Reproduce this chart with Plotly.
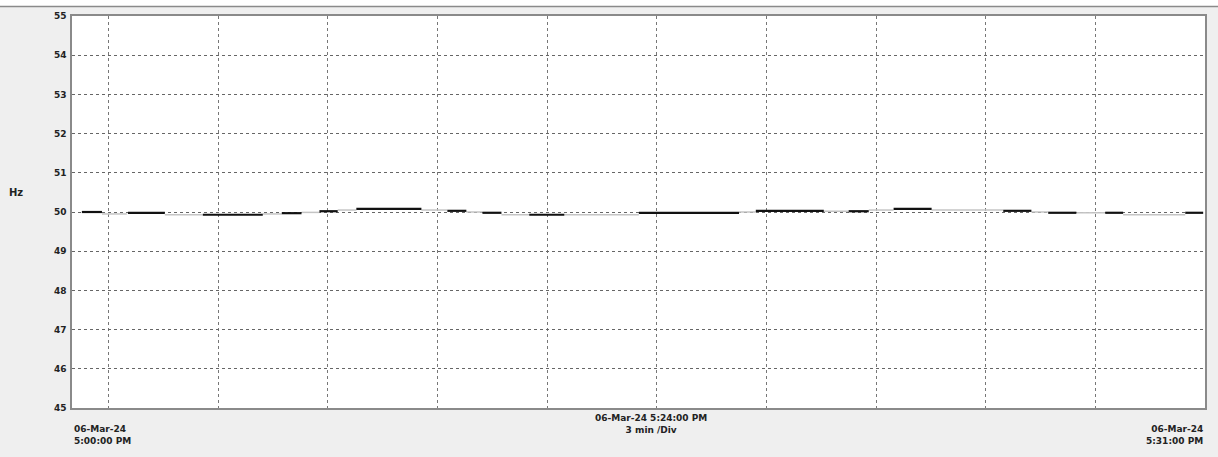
import pandas as pd
import plotly.graph_objects as go

# ---- data (minutes after 06-Mar-24 5:00:00 PM) ----
seg_start = [0.27, 0.82, 1.53, 2.54, 3.58, 5.22, 5.74, 6.28, 6.77, 7.27, 7.78, 9.56,
             10.27, 10.79, 11.23, 11.75, 12.51, 13.47, 15.51, 18.25, 18.71, 20.57,
             21.25, 21.80, 22.48, 23.52, 25.48, 26.25, 26.71, 27.48, 28.27, 28.76, 30.46]
seg_end = [0.82, 1.50, 2.54, 3.58, 5.22, 5.74, 6.28, 6.77, 7.27, 7.78, 9.56, 10.27,
           10.79, 11.23, 11.75, 12.51, 13.47, 15.51, 18.25, 18.71, 20.57, 21.25,
           21.80, 22.48, 23.52, 25.48, 26.25, 26.71, 27.48, 28.27, 28.76, 30.46, 30.95]
seg_value = [50.00, 49.95, 49.98, 49.93, 49.93, 49.95, 49.97, 49.99, 50.02, 50.05, 50.08, 50.05,
             50.03, 50.00, 49.98, 49.93, 49.93, 49.93, 49.98, 50.00, 50.03, 50.02,
             50.02, 50.05, 50.08, 50.05, 50.03, 50.00, 49.98, 49.98, 49.98, 49.93, 49.98]
seg_dark = [1, 0, 1, 0, 1, 0, 1, 0, 1, 0, 1, 0,
            1, 0, 1, 0, 1, 0, 1, 0, 1, 0,
            1, 0, 1, 0, 1, 0, 1, 0, 1, 0, 1]

y_ticks = [45, 46, 47, 48, 49, 50, 51, 52, 53, 54, 55]
start_label = "06-Mar-24<br>5:00:00 PM"
end_label = "06-Mar-24<br>5:31:00 PM"
mid_label = "06-Mar-24 5:24:00 PM<br>3 min /Div"
y_unit = "Hz"

base = pd.Timestamp("2024-03-06 17:00:00")
t_start = base
t_end = base + pd.Timedelta(minutes=31)
grid0 = base + pd.Timedelta(minutes=1)


def to_t(m):
    return base + pd.Timedelta(seconds=m * 60)


def build(flag):
    xs, ys = [], []
    for s, e, v, d in zip(seg_start, seg_end, seg_value, seg_dark):
        if d == flag:
            xs += [to_t(s), to_t(e), None]
            ys += [v, v, None]
    return xs, ys


fig = go.Figure()
gx, gy = build(0)
fig.add_trace(go.Scatter(x=gx, y=gy, mode="lines", line=dict(color="#c4c4c4", width=1.5),
                         hoverinfo="skip", showlegend=False))
dx, dy = build(1)
fig.add_trace(go.Scatter(x=dx, y=dy, mode="lines", line=dict(color="#111111", width=2.2),
                         hoverinfo="skip", showlegend=False))

fig.update_layout(
    width=1218, height=457,
    margin=dict(l=72, r=11, t=14, b=49),
    paper_bgcolor="#efefef",
    plot_bgcolor="white",
    showlegend=False,
)
fig.update_xaxes(
    type="date", range=[t_start, t_end],
    tick0=grid0, dtick=3 * 60 * 1000,
    showticklabels=False, ticks="",
    showgrid=True, gridcolor="#777777", griddash="dot", gridwidth=1,
    showline=True, linecolor="#8a8a8a", linewidth=1.5, mirror=True,
    zeroline=False,
)
fig.update_yaxes(
    range=[45, 55], tickvals=y_ticks, ticktext=[str(v) for v in y_ticks],
    tickfont=dict(family="DejaVu Sans", size=9, color="#222222", weight="bold"),
    ticks="", ticklabelstandoff=2,
    showgrid=True, gridcolor="#666666", griddash="dot", gridwidth=1,
    showline=True, linecolor="#8a8a8a", linewidth=1.5, mirror=True,
    zeroline=False,
)

fnt = dict(family="DejaVu Sans", size=9, color="#222222", weight="bold")
fig.add_annotation(text=start_label, xref="paper", yref="paper", x=0, y=-0.035,
                   xanchor="left", yanchor="top", showarrow=False, align="left", font=fnt)
fig.add_annotation(text=end_label, xref="paper", yref="paper", x=1, y=-0.035,
                   xanchor="right", yanchor="top", showarrow=False, align="right", font=fnt)
fig.add_annotation(text=mid_label, xref="paper", yref="paper", x=0.511, y=-0.008,
                   xanchor="center", yanchor="top", showarrow=False, align="center", font=fnt)
fig.add_annotation(text=y_unit, xref="paper", yref="paper", x=-0.049, y=0.55,
                   xanchor="center", yanchor="middle", showarrow=False,
                   font=dict(family="DejaVu Sans", size=10, color="#222222", weight="bold"))

# top white strip and separator line
fig.add_shape(type="rect", xref="paper", yref="paper", x0=-0.1, x1=1.1, y0=1.024, y1=1.1,
              fillcolor="white", line=dict(width=0), layer="below")
fig.add_shape(type="line", xref="paper", yref="paper", x0=-0.1, x1=1.1, y0=1.024, y1=1.024,
              line=dict(color="#8a8a8a", width=1.5))

fig.write_html("out.html", config={"displayModeBar": False},
               post_script="document.body.style.margin='0';document.body.style.overflow='hidden';")
